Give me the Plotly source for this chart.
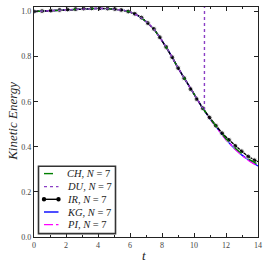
import plotly.graph_objects as go

# ---- data ----
t_grid = [0, 0.5, 1, 1.5, 2, 2.5, 3, 3.5, 4, 4.5, 5, 5.5, 6, 6.5, 7, 7.5, 8,
          8.5, 9, 9.5, 10, 10.5, 11, 11.5, 12, 12.5, 13, 13.5, 14]
ke_kg = [1.000, 1.002, 1.004, 1.006, 1.009, 1.011, 1.013, 1.014, 1.014, 1.013,
         1.011, 1.007, 0.998, 0.982, 0.956, 0.922, 0.871, 0.814, 0.750, 0.690,
         0.630, 0.576, 0.524, 0.476, 0.432, 0.395, 0.363, 0.337, 0.315]
ke_pi = [1.000, 1.002, 1.004, 1.006, 1.009, 1.011, 1.013, 1.014, 1.014, 1.013,
         1.011, 1.007, 0.998, 0.982, 0.956, 0.922, 0.871, 0.814, 0.750, 0.690,
         0.630, 0.576, 0.523, 0.475, 0.431, 0.394, 0.361, 0.335, 0.313]
ke_ch = [1.000, 1.002, 1.004, 1.006, 1.009, 1.011, 1.013, 1.014, 1.014, 1.013,
         1.011, 1.007, 0.998, 0.982, 0.956, 0.922, 0.871, 0.814, 0.750, 0.690,
         0.630, 0.576, 0.525, 0.479, 0.436, 0.399, 0.368, 0.342, 0.322]
t_du = [0, 0.5, 1, 1.5, 2, 2.5, 3, 3.5, 4, 4.5, 5, 5.5, 6, 6.5, 7, 7.5, 8,
        8.5, 9, 9.5, 10, 10.5, 10.65, 10.68]
ke_du = [1.000, 1.002, 1.004, 1.006, 1.009, 1.011, 1.013, 1.014, 1.014, 1.013,
         1.011, 1.007, 0.998, 0.982, 0.956, 0.922, 0.871, 0.814, 0.750, 0.690,
         0.630, 0.576, 0.562, 3.0]
t_ir = [0, 0.5, 1.05, 1.6, 2.1, 2.6, 3.1, 3.6, 4.1, 4.6, 5.05, 5.45, 5.89, 6.3,
        6.72, 7.11, 7.49, 7.86, 8.26, 8.64, 9.01, 9.39, 9.78, 10.16, 10.55,
        10.97, 11.36, 11.76, 12.18, 12.58, 12.98, 13.39, 13.78, 14.0]
ke_ir = [1.000, 1.002, 1.004, 1.007, 1.009, 1.011, 1.013, 1.014, 1.014, 1.013,
         1.011, 1.007, 1.000, 0.990, 0.973, 0.949, 0.923, 0.886, 0.843, 0.797,
         0.749, 0.704, 0.656, 0.612, 0.571, 0.530, 0.494, 0.460, 0.431, 0.404,
         0.380, 0.357, 0.340, 0.334]

series_names = ["CH", "DU", "IR", "KG", "PI"]
series_N = [7, 7, 7, 7, 7]
x_ticks = list(range(0, 15, 2))
y_ticks = [0.0, 0.2, 0.4, 0.6, 0.8, 1.0]

SERIF = "Liberation Serif"
styles = {
    "CH": dict(color="#008000", dash="dash", marker=False),
    "DU": dict(color="#8a3fc4", dash="dot", marker=False),
    "IR": dict(color="#000000", dash="solid", marker=True),
    "KG": dict(color="#0000ff", dash="solid", marker=False),
    "PI": dict(color="#ff00ff", dash="dashdot", marker=False),
}
LW = 1.4


def label(name, n):
    return f"<i>{name}</i>, <i>N</i> = {n}"


fig = go.Figure()
fig.add_trace(go.Scatter(x=t_grid, y=ke_kg, mode="lines", name=label("KG", 7),
                         line=dict(color=styles["KG"]["color"], width=LW)))
fig.add_trace(go.Scatter(x=t_grid, y=ke_pi, mode="lines", name=label("PI", 7),
                         line=dict(color=styles["PI"]["color"], width=LW, dash="dashdot")))
ir_sizes = [5] * (len(t_ir) - 1) + [0]
fig.add_trace(go.Scatter(x=t_ir, y=ke_ir, mode="lines+markers", name=label("IR", 7),
                         line=dict(color="#000000", width=LW),
                         marker=dict(size=ir_sizes, color="#000000")))
fig.add_trace(go.Scatter(x=t_grid, y=ke_ch, mode="lines", name=label("CH", 7),
                         line=dict(color=styles["CH"]["color"], width=LW, dash="dash")))
fig.add_trace(go.Scatter(x=t_du, y=ke_du, mode="lines", name=label("DU", 7),
                         line=dict(color=styles["DU"]["color"], width=LW, dash="dot")))

# ---- hand-drawn legend (matplotlib-like compact box) ----
L, R, T, B = 34, 258, 6.7, 236.7  # plot area in pixels
W, H = R - L, B - T


def px(x):
    return (x - L) / W


def py(y):
    return (B - y) / H


shapes = [dict(type="rect", xref="paper", yref="paper",
               x0=px(38.5), x1=px(115.5), y0=py(233.3), y1=py(166),
               line=dict(color="#333", width=1.6), fillcolor="white", layer="above")]
annotations = []
row_y = [173.3, 186.3, 199, 211.7, 224.3]
for name, n, yy in zip(series_names, series_N, row_y):
    st = styles[name]
    shapes.append(dict(type="line", xref="paper", yref="paper",
                       x0=px(44), x1=px(58.5), y0=py(yy), y1=py(yy),
                       line=dict(color=st["color"], width=LW, dash=st["dash"]),
                       layer="above"))
    if st["marker"]:
        for cx in (44, 58.5):
            shapes.append(dict(type="circle", xref="paper", yref="paper",
                               x0=px(cx - 2.2), x1=px(cx + 2.2),
                               y0=py(yy + 2.2), y1=py(yy - 2.2),
                               line=dict(color="#000", width=0), fillcolor="#000",
                               layer="above"))
    annotations.append(dict(xref="paper", yref="paper", x=px(65), y=py(yy),
                            xanchor="left", yanchor="middle", showarrow=False,
                            text=label(name, n),
                            font=dict(family=SERIF, size=10.5, color="#222")))

# axis titles placed as annotations
annotations.append(dict(xref="paper", yref="paper", x=px(144), y=py(255),
                        xanchor="center", yanchor="middle", showarrow=False,
                        text="<i>t</i>", font=dict(family=SERIF, size=13, color="#222")))
annotations.append(dict(xref="paper", yref="paper", x=px(12.5), y=py(121),
                        xanchor="center", yanchor="middle", showarrow=False,
                        textangle=-90,
                        text="<i>Kinetic Energy</i>",
                        font=dict(family=SERIF, size=13, color="#222")))

axis_common = dict(
    showline=True, linecolor="#222", linewidth=1.2, mirror="ticks",
    ticks="inside", ticklen=4, tickcolor="#222", showgrid=False, zeroline=False,
    tickfont=dict(family=SERIF, size=8, color="#444"),
    ticklabeloverflow="allow",
)
fig.update_xaxes(range=[0, 14], tickvals=x_ticks,
                 ticktext=[str(v) for v in x_ticks],
                 minor=dict(dtick=1, ticks="inside", ticklen=2, tickcolor="#222"),
                 **axis_common)
fig.update_yaxes(range=[0, 1.02], tickvals=y_ticks, ticktext=[f"{v:.1f}" for v in y_ticks],
                 **axis_common)

fig.update_layout(
    width=269, height=269,
    margin=dict(l=34, r=11, t=7, b=32),
    plot_bgcolor="white", paper_bgcolor="white",
    showlegend=False,
    shapes=shapes, annotations=annotations,
)

fig.write_html("out.html", config={"displayModeBar": False},
               post_script="document.body.style.margin='0';document.body.style.overflow='hidden';")
